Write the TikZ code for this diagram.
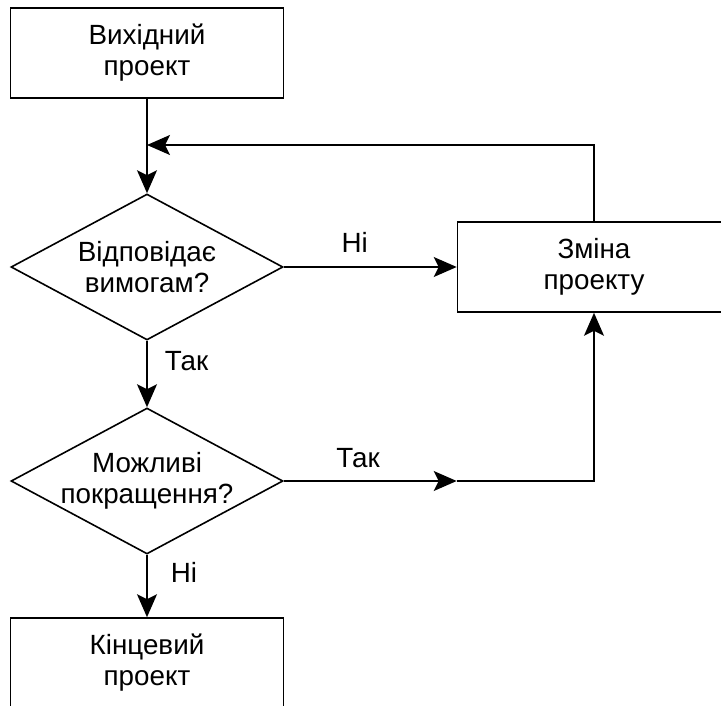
\documentclass[tikz,border=0pt]{standalone}
\usepackage{fontspec}
\setmainfont{Liberation Sans}
\usetikzlibrary{shapes.geometric, arrows.meta}

\begin{document}
\begin{tikzpicture}[x=1pt, y=-1pt, line width=1.6pt,
    >={Stealth[length=23pt, width=20pt, inset=5pt]},
    tekst/.style={font=\fontsize{27.8}{31}\selectfont},
    mitka/.style={tekst, inner sep=0pt},
    blok/.style={tekst, draw, rectangle, align=center, inner sep=0pt,
        minimum width=273pt, minimum height=90pt},
    rishennya/.style={tekst, draw, diamond, align=center, inner ysep=0pt,
        inner xsep=-10pt, aspect=1.88, minimum width=272pt, minimum height=146pt}]
    % рамка малюнка
    \useasboundingbox (0,0) rectangle (721,705);
    \clip (0,0) rectangle (721,705);

    % блоки
    \node[blok] (vykhid) at (147,53) {Вихідний\\проект};
    \node[rishennya] (vidp) at (147,267) {Відповідає\\вимогам?};
    \node[blok] (zmina) at (594,267) {Зміна\\проекту};
    \node[rishennya] (mozhl) at (147,481) {Можливі\\покращення?};
    \node[blok] (kinets) at (147,663) {Кінцевий\\проект};

    % точки зламу
    \coordinate (zlyttya) at (147,145);
    \coordinate (povorot) at (zmina.west |- mozhl.east);

    % з'єднання
    \draw[->] (vykhid) -- (vidp);
    \draw[->] (zmina.north) |- (zlyttya);
    \draw[->] (vidp.east) -- node[mitka, pos=0.41, above=14pt] {Ні} (zmina.west);
    \draw[->] (vidp.south) -- node[mitka, pos=0.3, right=17pt] {Так} (mozhl.north);
    \draw[->] (mozhl.east) -- node[mitka, pos=0.43, above=12pt] {Так} (povorot);
    \draw[->] (povorot) -| (zmina.south);
    \draw[->] (mozhl.south) -- node[mitka, pos=0.29, right=23pt] {Ні} (kinets.north);
\end{tikzpicture}
\end{document}
